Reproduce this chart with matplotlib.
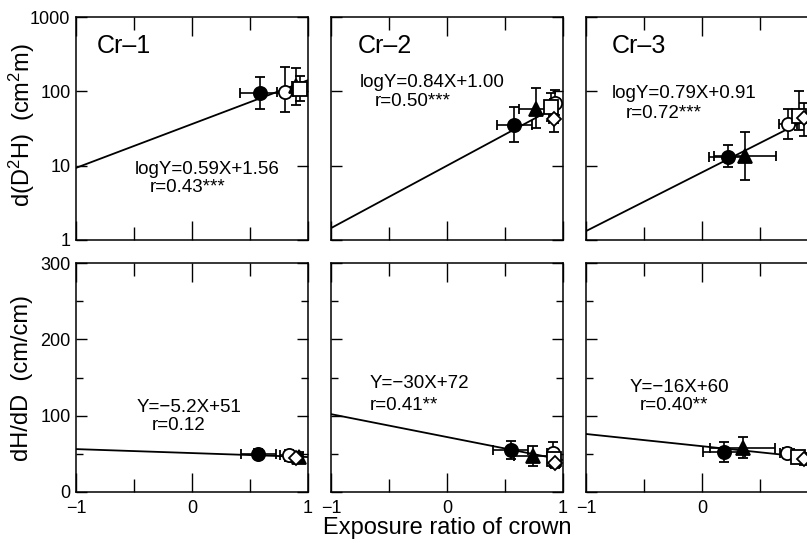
import matplotlib
matplotlib.use('Agg')
import matplotlib.pyplot as plt
from matplotlib.ticker import FixedLocator, NullLocator, FixedFormatter
import numpy as np

plt.rcParams['font.family'] = ['Liberation Sans', 'DejaVu Sans']
plt.rcParams['mathtext.fontset'] = 'custom'
plt.rcParams['mathtext.rm'] = 'Liberation Sans'
plt.rcParams['mathtext.it'] = 'Liberation Sans'

# ---------------- data ----------------
panel_names = ['Cr\u20131', 'Cr\u20132', 'Cr\u20133']

top_slope = [0.59, 0.84, 0.79]
top_intercept = [1.56, 1.00, 0.91]
top_r = ['0.43***', '0.50***', '0.72***']

bot_slope = [-5.2, -30, -16]
bot_intercept = [51, 72, 60]
bot_r = ['0.12', '0.41**', '0.40**']

# marker series: filled circle, open circle, filled triangle, open square, open diamond
series_marker = ['o', 'o', '^', 's', 'D']
series_filled = [True, False, True, False, False]

# top row: d(D2H)
top_series = [[0, 1, 2, 3], [0, 2, 1, 3, 4], [0, 2, 1, 3, 4]]
top_x = [[0.59, 0.80, 0.90, 0.93],
         [0.58, 0.77, 0.93, 0.90, 0.92],
         [0.22, 0.37, 0.74, 0.84, 0.88]]
top_xerr = [[0.18, 0.07, 0.04, 0.03],
            [0.15, 0.15, 0.04, 0.04, 0.04],
            [0.16, 0.27, 0.08, 0.05, 0.04]]
top_y = [[95, 98, 118, 108],
         [35, 58, 70, 62, 43],
         [13, 13.5, 36, 47, 44]]
top_ylo = [[58, 52, 65, 75],
           [21, 32, 48, 40, 28],
           [9.5, 6.5, 23, 30, 25]]
top_yhi = [[155, 210, 205, 160],
           [62, 110, 105, 95, 60],
           [19, 28, 58, 100, 70]]

# bottom row: dH/dD
bot_series = [[0, 1, 2, 4], [0, 2, 1, 3, 4], [0, 2, 1, 3, 4]]
bot_x = [[0.57, 0.84, 0.92, 0.90],
         [0.55, 0.74, 0.91, 0.92, 0.93],
         [0.19, 0.35, 0.73, 0.83, 0.88]]
bot_xerr = [[0.15, 0.08, 0.04, 0.05],
            [0.15, 0.16, 0.05, 0.04, 0.04],
            [0.18, 0.28, 0.06, 0.05, 0.04]]
bot_y = [[50, 48, 46, 45],
         [55, 47, 51, 43, 38],
         [52, 58, 51, 46, 43]]
bot_yerr = [[6, 7, 6, 5],
            [12, 13, 14, 8, 6],
            [13, 14, 6, 7, 8]]

x_ticks = [-1, 0, 1]
x_minor = [-0.5, 0.5]
top_yticks = [1, 10, 100, 1000]
bot_yticks = [0, 100, 200, 300]
bot_yminor = [50, 150, 250]


def num_label(v):
    return ('%g' % v).replace('-', '\u2212')


# ---------------- layout ----------------
W, H = 807, 543
fig = plt.figure(figsize=(W / 100, H / 100), dpi=100)

col_left = [76, 331, 586]
col_w = 232
row_top = [17, 263]
row_bot = [240, 492]


def ax_at(l, t, w, b):
    return fig.add_axes([l / W, 1 - b / H, w / W, (b - t) / H])


def fx(px):
    return px / W


def fy(py):
    return 1 - py / H


lw = 1.1
col = 'black'


def draw_point(ax, x, y, xerr, yerr, si):
    m = series_marker[si]
    ax.errorbar(x, y, xerr=xerr, yerr=yerr,
                fmt=m, ms=9.5 if m != 'D' else 7,
                mfc=col if series_filled[si] else 'white', mec=col, mew=1.3,
                ecolor=col, elinewidth=1.2, capsize=3.8, capthick=1.2, zorder=3)


for c in range(3):
    for r in range(2):
        ax = ax_at(col_left[c], row_top[r], col_w, row_bot[r])
        for s in ax.spines.values():
            s.set_linewidth(lw)
        ax.set_xlim(-1, 1)
        ax.xaxis.set_major_locator(FixedLocator(x_ticks))
        ax.xaxis.set_minor_locator(FixedLocator(x_minor))
        ax.tick_params(axis='both', which='both', direction='in', top=True, right=True,
                       width=1.0, colors=col, labelsize=13)
        ax.tick_params(axis='x', which='major', length=13.5, pad=6)
        ax.tick_params(axis='x', which='minor', length=9.5)
        ax.tick_params(axis='y', which='major', length=8, pad=4)
        ax.tick_params(axis='y', which='minor', length=5)

        xs = np.array([-1.0, 1.0])
        if r == 0:
            ax.set_yscale('log')
            ax.set_ylim(1, 1000)
            ax.yaxis.set_major_locator(FixedLocator(top_yticks))
            ax.yaxis.set_minor_locator(NullLocator())
            ax.yaxis.set_major_formatter(FixedFormatter([num_label(v) for v in top_yticks]))
            ax.plot(xs, 10 ** (top_slope[c] * xs + top_intercept[c]), color=col, lw=1.3, zorder=2)
            for i in range(len(top_x[c])):
                yv = top_y[c][i]
                draw_point(ax, top_x[c][i], yv, top_xerr[c][i],
                           [[yv - top_ylo[c][i]], [top_yhi[c][i] - yv]], top_series[c][i])
            ax.set_xticklabels([])
        else:
            ax.set_ylim(0, 300)
            ax.yaxis.set_major_locator(FixedLocator(bot_yticks))
            ax.yaxis.set_minor_locator(FixedLocator(bot_yminor))
            ax.yaxis.set_major_formatter(FixedFormatter([num_label(v) for v in bot_yticks]))
            ax.plot(xs, bot_slope[c] * xs + bot_intercept[c], color=col, lw=1.3, zorder=2)
            for i in range(len(bot_x[c])):
                draw_point(ax, bot_x[c][i], bot_y[c][i], bot_xerr[c][i], bot_yerr[c][i],
                           bot_series[c][i])
            ax.set_xticklabels([num_label(v) for v in x_ticks])
        if c > 0:
            ax.set_yticklabels([])

# panel labels
for c, (px, py) in enumerate([(97, 46), (358, 46), (612, 46)]):
    fig.text(fx(px), fy(py), panel_names[c], fontsize=18, ha='left', va='center')

# equations
top_pos = [((135, 170), (150, 188)), ((360, 83), (375, 102)), ((612, 93), (626, 113))]
bot_pos = [((137, 407), (152, 425)), ((370, 383), (370, 405)), ((630, 387), (640, 406))]
for c in range(3):
    eq = 'logY=%.2fX+%.2f' % (top_slope[c], top_intercept[c])
    (ex, ey), (rx, ry) = top_pos[c]
    fig.text(fx(ex), fy(ey), eq, fontsize=13.5, ha='left', va='center')
    fig.text(fx(rx), fy(ry), 'r=' + top_r[c], fontsize=13.5, ha='left', va='center')
    eq = 'Y=%sX+%g' % (num_label(bot_slope[c]), bot_intercept[c])
    (ex, ey), (rx, ry) = bot_pos[c]
    fig.text(fx(ex), fy(ey), eq, fontsize=13.5, ha='left', va='center')
    fig.text(fx(rx), fy(ry), 'r=' + bot_r[c], fontsize=13.5, ha='left', va='center')

# axis labels
fig.text(fx(22), fy(125), r'd(D$^2$H)  (cm$^2$m)', rotation=90, fontsize=17, ha='center', va='center')
fig.text(fx(22), fy(378), 'dH/dD  (cm/cm)', rotation=90, fontsize=17, ha='center', va='center')
fig.text(fx(447), fy(528), 'Exposure ratio of crown', fontsize=17, ha='center', va='center')

fig.savefig('out.png', dpi=100)
